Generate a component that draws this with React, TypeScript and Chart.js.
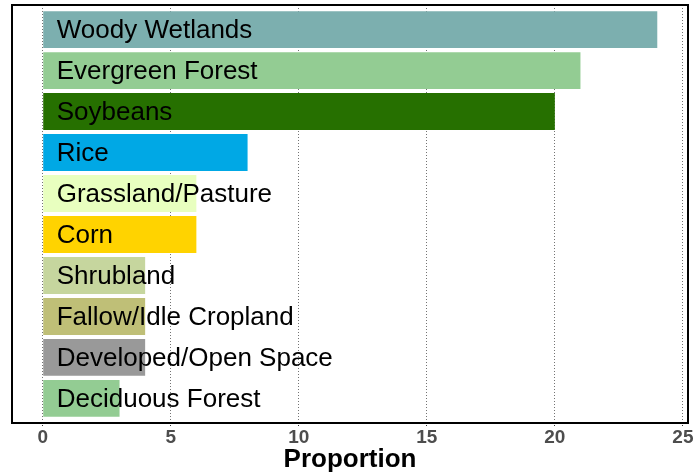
import React, { useEffect, useRef } from "react";
import { Chart, registerables } from "chart.js";

Chart.register(...registerables);

const categories = [
  "Woody Wetlands",
  "Evergreen Forest",
  "Soybeans",
  "Rice",
  "Grassland/Pasture",
  "Corn",
  "Shrubland",
  "Fallow/Idle Cropland",
  "Developed/Open Space",
  "Deciduous Forest",
];
const proportions = [24, 21, 20, 8, 6, 6, 4, 4, 4, 3];
const barColors = [
  "#7CAFAF",
  "#93CC93",
  "#267000",
  "#00A8E5",
  "#E8FFBF",
  "#FFD300",
  "#C6D69E",
  "#BFBF77",
  "#999999",
  "#93CC93",
];
const xTicks = [0, 5, 10, 15, 20, 25];
const xTitle = "Proportion";

export default function App() {
  const ref = useRef<HTMLCanvasElement | null>(null);

  useEffect(() => {
    const canvas = ref.current;
    if (!canvas) return;
    const maxV = Math.max(...proportions);
    const expand = maxV * 0.05;

    const labelPlugin = {
      id: "barLabels",
      afterDatasetsDraw(chart: any) {
        const ctx = chart.ctx;
        const meta = chart.getDatasetMeta(0);
        const xs = chart.scales.x;
        const x0 = xs.getPixelForValue(0);
        ctx.save();
        ctx.font = "26px 'Liberation Sans', Arial, sans-serif";
        ctx.fillStyle = "#000000";
        ctx.textAlign = "left";
        ctx.textBaseline = "middle";
        meta.data.forEach((el: any, i: number) => {
          ctx.fillText(categories[i], x0 + 14, el.y + 1);
        });
        ctx.restore();
      },
      afterDraw(chart: any) {
        const { left, top, right, bottom } = chart.chartArea;
        const ctx = chart.ctx;
        ctx.save();
        ctx.strokeStyle = "#000000";
        ctx.lineWidth = 2;
        ctx.strokeRect(left, top, right - left, bottom - top);
        ctx.restore();
      },
    };

    const chart = new Chart(canvas, {
      type: "bar",
      data: {
        datasets: [
          {
            data: proportions.map((v, i) => ({ x: v, y: i })),
            backgroundColor: barColors,
            borderWidth: 0,
            barPercentage: 0.9,
            categoryPercentage: 1,
          },
        ],
      },
      options: {
        indexAxis: "y",
        animation: false,
        responsive: false,
        devicePixelRatio: 1,
        layout: { padding: { left: 12, right: 12, top: 5, bottom: 0 } },
        plugins: {
          legend: { display: false },
          tooltip: { enabled: false },
        },
        scales: {
          y: {
            type: "linear",
            display: false,
            offset: false,
            min: -0.6,
            max: categories.length - 0.4,
            reverse: true,
            afterBuildTicks: (scale: any) => {
              scale.ticks = categories.map((_, i) => ({ value: i }));
            },
            grid: { display: false },
          },
          x: {
            type: "linear",
            min: -expand,
            max: maxV + expand,
            afterBuildTicks: (scale: any) => {
              scale.ticks = xTicks.map((v) => ({ value: v }));
            },
            afterFit: (scale: any) => {
              scale.height = 52;
            },
            border: { display: false, dash: [1, 2] },
            grid: {
              color: "rgba(80,80,80,0.8)",
              lineWidth: 1,
              drawTicks: true,
              tickLength: 4,
              tickColor: "#333333",
              tickBorderDash: [1, 1],
            },
            ticks: {
              padding: -1,
              color: "#4D4D4D",
              font: { family: "'Liberation Sans', Arial, sans-serif", size: 19, weight: "bold" },
              maxRotation: 0,
            },
            title: {
              display: true,
              text: xTitle,
              color: "#000000",
              font: { family: "'Liberation Sans', Arial, sans-serif", size: 26, weight: "bold" },
              padding: { top: 0, bottom: 0 },
            },
          },
        },
      },
      plugins: [labelPlugin],
    } as any);

    return () => chart.destroy();
  }, []);

  return (
    <div style={{ position: "fixed", left: 0, top: 0, width: 700, height: 475, background: "#ffffff" }}>
      <canvas ref={ref} width={700} height={475} />
    </div>
  );
}
